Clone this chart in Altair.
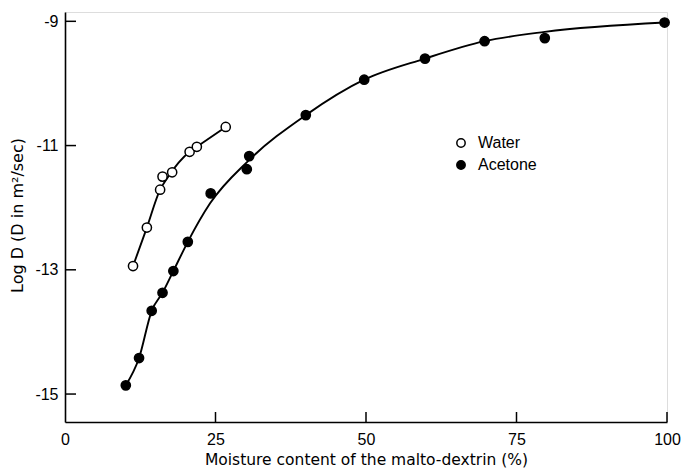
import altair as alt
import pandas as pd

# Diffusion coefficients in malto-dextrin versus moisture content
water_x = [11.3, 13.6, 15.8, 16.2, 17.8, 20.7, 21.9, 26.7]
water_y = [-12.94, -12.32, -11.71, -11.50, -11.43, -11.10, -11.02, -10.70]

acetone_x = [10.1, 12.3, 14.4, 16.2, 18.0, 20.4, 24.2, 30.2, 30.6, 40.0, 49.7, 59.8, 69.7, 79.7, 99.6]
acetone_y = [-14.86, -14.42, -13.66, -13.37, -13.02, -12.55, -11.77, -11.38, -11.17, -10.51, -9.94, -9.60, -9.32, -9.27, -9.02]

# hand-fitted smooth curves through the measurements
water_fit_x = [11.3, 13.6, 15.8, 17.0, 20.7, 21.9, 26.7]
water_fit_y = [-12.94, -12.32, -11.71, -11.52, -11.10, -11.02, -10.70]
acetone_fit_x = [10.1, 12.3, 14.4, 16.2, 18.0, 20.4, 24.1, 30.4, 40.0, 49.7, 59.8, 69.7, 79.7, 99.6]
acetone_fit_y = [-14.86, -14.42, -13.66, -13.37, -13.02, -12.55, -11.93, -11.25, -10.51, -9.94, -9.60, -9.32, -9.17, -9.02]

x_ticks = [25, 50, 75, 100]
x_labels = [0, 25, 50, 75, 100]
y_ticks = [-9, -11, -13, -15]

FONT = "Liberation Sans"
TITLE_FONT = "DejaVu Sans"
W, H = 602, 410

points = pd.concat([
    pd.DataFrame({"moisture": water_x, "logD": water_y, "series": "Water"}),
    pd.DataFrame({"moisture": acetone_x, "logD": acetone_y, "series": "Acetone"}),
], ignore_index=True)
fits = pd.concat([
    pd.DataFrame({"moisture": water_fit_x, "logD": water_fit_y, "series": "Water"}),
    pd.DataFrame({"moisture": acetone_fit_x, "logD": acetone_fit_y, "series": "Acetone"}),
], ignore_index=True)

x_scale = alt.Scale(domain=[0, 100], nice=False, zero=False)
y_scale = alt.Scale(domain=[-15.45, -8.85], nice=False, zero=False)

x_enc = alt.X("moisture:Q", scale=x_scale,
              axis=alt.Axis(values=x_labels, title="Moisture content of the malto-dextrin (%)",
                            grid=False, ticks=False, labelPadding=9, titlePadding=5,
                            labelFlush=False,
                            domainColor="black", domainWidth=1.6, labelColor="black",
                            titleColor="black", labelFontSize=16, titleFontSize=15.5,
                            labelFont=FONT, titleFont=TITLE_FONT, titleFontWeight="normal"))
y_enc = alt.Y("logD:Q", scale=y_scale,
              axis=alt.Axis(values=y_ticks, title="Log D  (D  in  m²/sec)",
                            labelExpr="'' + datum.value", labelFlush=False,
                            grid=False, ticks=False, labelPadding=7,
                            domainColor="black", domainWidth=1.6, labelColor="black",
                            titleColor="black", labelFontSize=16, titleFontSize=16,
                            labelFont=FONT, titleFont=TITLE_FONT, titleFontWeight="normal",
                            titleX=-40, titleY=203))

curves = alt.Chart(fits).mark_line(
    color="black", strokeWidth=1.9, interpolate="monotone"
).encode(x=x_enc, y=y_enc, detail="series:N", order="moisture:Q")

dots = alt.Chart(points).mark_point(
    shape="circle", filled=True, stroke="black", strokeWidth=1.5, size=85, opacity=1
).encode(
    x="moisture:Q", y="logD:Q",
    fill=alt.Fill("series:N",
                  scale=alt.Scale(domain=["Water", "Acetone"], range=["white", "black"]),
                  legend=alt.Legend(title=None, orient="none", legendX=388, legendY=123,
                                    symbolType="circle", symbolSize=70,
                                    symbolStrokeColor="black", symbolStrokeWidth=1.5,
                                    labelFont=FONT, labelFontSize=16, labelColor="black",
                                    rowPadding=6, labelOffset=9)),
)

xt = alt.Chart(pd.DataFrame({"t": x_ticks})).mark_rule(color="black", strokeWidth=1.5).encode(
    x=alt.X("t:Q", scale=x_scale), y=alt.value(H), y2=alt.value(H - 10))
yt = alt.Chart(pd.DataFrame({"t": y_ticks})).mark_rule(color="black", strokeWidth=1.5).encode(
    y=alt.Y("t:Q", scale=y_scale), x=alt.value(0), x2=alt.value(11))

chart = alt.layer(curves, xt, yt, dots).properties(
    width=W, height=H,
    autosize=alt.AutoSizeParams(type="none"),
    padding={"left": 65, "top": 12, "right": 18, "bottom": 51},
).configure_view(stroke=None).configure(background="white")

chart.save("out.html", embed_options={"renderer": "svg", "actions": False})
